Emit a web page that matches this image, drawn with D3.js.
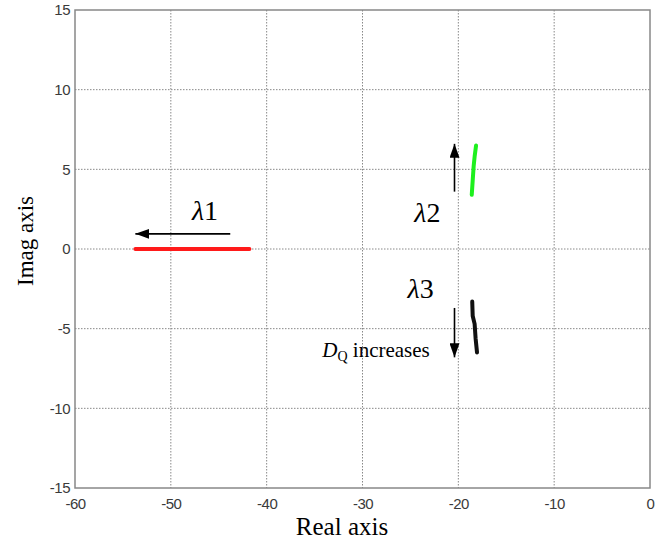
<!DOCTYPE html>
<html>
<head>
<meta charset="utf-8">
<script src="https://cdn.jsdelivr.net/npm/d3@7"></script>
<style>
  body { margin: 0; background: #fff; }
  svg { display: block; }
</style>
</head>
<body>
<div id="chart"></div>
<script>
// axis ticks
const xTicks = [-60, -50, -40, -30, -20, -10, 0];
const yTicks = [-15, -10, -5, 0, 5, 10, 15];

// eigenvalue loci (real, imag)
const lambda1 = [[-53.7, 0], [-51, 0], [-48, 0], [-45, 0], [-41.8, 0]];
const lambda2 = [[-18.6, 3.4], [-18.5, 4.3], [-18.4, 5.2], [-18.3, 5.8], [-18.15, 6.5]];
const lambda3 = [[-18.55, -3.3], [-18.5, -4.2], [-18.3, -4.7], [-18.2, -5.6], [-18.05, -6.5]];

// annotation arrows [from, to] in data units
const arrows = [
    [[-43.8, 0.95], [-53.7, 0.95]],
    [[-20.4, 3.6], [-20.4, 6.6]],
    [[-20.4, -3.7], [-20.4, -6.8]]
];

const width = 670, height = 545;
const margin = {left: 75, right: 20, top: 10, bottom: 57};

const svg = d3.select('#chart').append('svg')
    .attr('width', width)
    .attr('height', height);

const x = d3.scaleLinear().domain([-60, 0]).range([margin.left, width - margin.right]);
const y = d3.scaleLinear().domain([-15, 15]).range([height - margin.bottom, margin.top]);

svg.append('defs').append('marker')
    .attr('id', 'head')
    .attr('viewBox', '0 0 14 10')
    .attr('refX', 14).attr('refY', 5)
    .attr('markerWidth', 14).attr('markerHeight', 10)
    .attr('markerUnits', 'userSpaceOnUse')
    .attr('orient', 'auto')
    .append('path')
    .attr('d', 'M0,0 L14,5 L0,10 Z')
    .style('fill', '#000');

// grid
const grid = svg.append('g');
grid.selectAll('.vg')
    .data(xTicks.slice(1, -1))
    .enter().append('line')
    .attr('x1', d => x(d)).attr('x2', d => x(d))
    .attr('y1', y(15)).attr('y2', y(-15))
    .style('stroke', '#888').style('stroke-width', 1).style('stroke-dasharray', '1.5,1.5');
grid.selectAll('.hg')
    .data(yTicks.slice(1, -1))
    .enter().append('line')
    .attr('x1', x(-60)).attr('x2', x(0))
    .attr('y1', d => y(d)).attr('y2', d => y(d))
    .style('stroke', '#888').style('stroke-width', 1).style('stroke-dasharray', '1.5,1.5');

// frame
svg.append('rect')
    .attr('x', x(-60)).attr('y', y(15))
    .attr('width', x(0) - x(-60)).attr('height', y(-15) - y(15))
    .style('fill', 'none').style('stroke', '#888').style('stroke-width', 1.5);

// tick labels
const fmt = d => String(d);
const xAxis = d3.axisBottom(x).tickValues(xTicks).tickFormat(fmt).tickSize(0).tickPadding(10);
const yAxis = d3.axisLeft(y).tickValues(yTicks).tickFormat(fmt).tickSize(0).tickPadding(5);

const gx = svg.append('g').attr('transform', 'translate(0,' + y(-15) + ')').call(xAxis);
const gy = svg.append('g').attr('transform', 'translate(' + x(-60) + ',0)').call(yAxis);
[gx, gy].forEach(function(g) {
    g.select('.domain').remove();
    g.selectAll('text')
        .style('font-family', 'Liberation Sans, Arial, sans-serif')
        .style('font-size', '15px')
        .style('letter-spacing', '-0.5px')
        .style('fill', '#3a3a3a');
});

// axis titles
const serif = 'Liberation Serif, Times New Roman, serif';
svg.append('text')
    .attr('x', 342).attr('y', 535)
    .attr('text-anchor', 'middle')
    .style('font-family', serif)
    .style('font-size', '25px')
    .text('Real axis');
svg.append('text')
    .attr('transform', 'translate(33,' + (y(0) - 8) + ') rotate(-90)')
    .attr('text-anchor', 'middle')
    .style('font-family', serif)
    .style('font-size', '23px')
    .text('Imag axis');

// loci
const line = d3.line().x(d => x(d[0])).y(d => y(d[1]));
const loci = [[lambda1, '#ff1a1a'], [lambda2, '#1ef01e'], [lambda3, '#111']];
svg.selectAll('.locus')
    .data(loci)
    .enter().append('path')
    .attr('class', 'locus')
    .attr('d', d => line(d[0]))
    .style('fill', 'none')
    .style('stroke', d => d[1])
    .style('stroke-width', 4)
    .style('stroke-linecap', 'round')
    .style('stroke-linejoin', 'round');

// arrows
svg.selectAll('.arrow')
    .data(arrows)
    .enter().append('line')
    .attr('x1', d => x(d[0][0])).attr('y1', d => y(d[0][1]))
    .attr('x2', d => x(d[1][0])).attr('y2', d => y(d[1][1]))
    .style('stroke', '#000').style('stroke-width', 1.6)
    .attr('marker-end', 'url(#head)');

// labels
function lambdaLabel(px, py, n) {
    const t = svg.append('text')
        .attr('x', px).attr('y', py)
        .style('font-family', serif)
        .style('font-size', '28px');
    t.append('tspan').style('font-style', 'italic').text('\u03bb');
    t.append('tspan').text(n);
}
lambdaLabel(x(-47.8), y(1.8), '1');
lambdaLabel(x(-24.6), y(1.7), '2');
lambdaLabel(x(-25.3), y(-3.05), '3');

const dq = svg.append('text')
    .attr('x', x(-34.2)).attr('y', y(-6.75))
    .style('font-family', serif)
    .style('font-size', '21px');
dq.append('tspan').style('font-style', 'italic').text('D');
dq.append('tspan').attr('dy', 4).style('font-size', '14px').text('Q');
dq.append('tspan').attr('dy', -4).text(' increases');
</script>
</body>
</html>
